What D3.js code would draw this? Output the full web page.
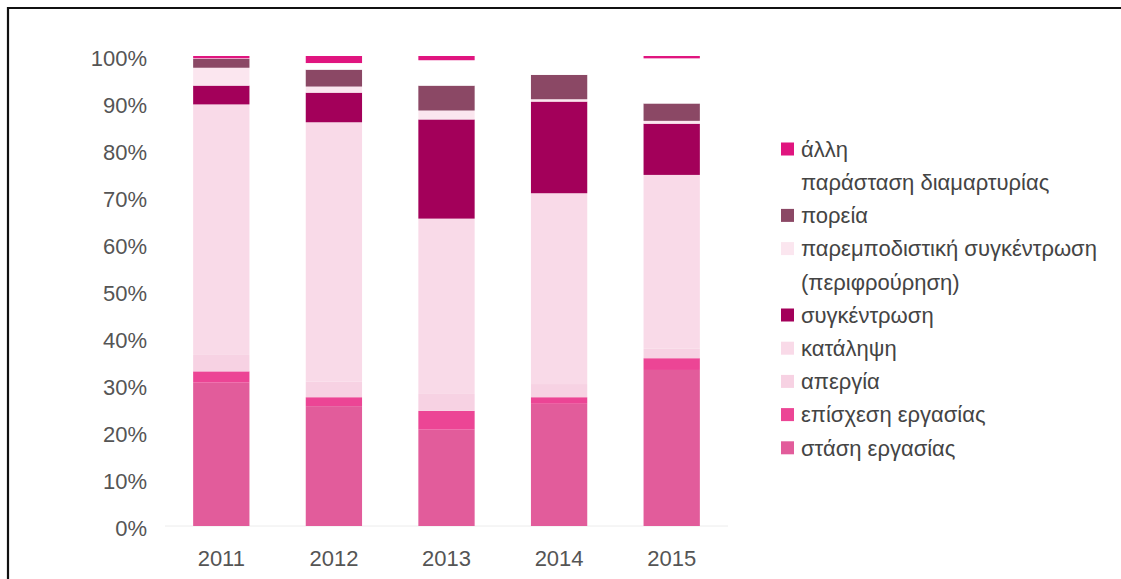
<!DOCTYPE html>
<html>
<head>
<meta charset="utf-8">
<script src="https://cdn.jsdelivr.net/npm/d3@7"></script>
<style>
  body { margin: 0; background: #fff; }
  svg { display: block; }
  .tick-label { font-family: "Liberation Sans", Arial, sans-serif; font-size: 22px; fill: #555; }
  .legend-label { font-family: "Liberation Sans", Arial, sans-serif; font-size: 22px; fill: #444; }
</style>
</head>
<body>
<div id="chart"></div>
<script>
/* DATA */
var years = ["2011", "2012", "2013", "2014", "2015"];

// stack order, bottom to top
var seriesNames = [
  "στάση εργασίας",
  "επίσχεση εργασίας",
  "απεργία",
  "κατάληψη",
  "συγκέντρωση",
  "παρεμποδιστική συγκέντρωση (περιφρούρηση)",
  "πορεία",
  "παράσταση διαμαρτυρίας",
  "άλλη"
];

var stasi       = [30.5, 25.5, 20.5, 26.0, 33.2];
var episxesi    = [2.4, 1.9, 4.0, 1.4, 2.5];
var apergia     = [3.5, 3.3, 3.6, 2.8, 2.0];
var katalipsi   = [53.3, 55.2, 37.3, 40.6, 37.0];
var sygkentrosi = [4.0, 6.3, 21.1, 19.5, 10.9];
var paremp      = [3.8, 1.3, 1.9, 0.5, 0.6];
var poreia      = [1.9, 3.6, 5.3, 5.2, 3.7];
var parastasi   = [0.1, 1.4, 5.4, 4.0, 9.6];
var alli        = [0.5, 1.5, 0.9, 0.0, 0.5];

var yTicks = [0, 10, 20, 30, 40, 50, 60, 70, 80, 90, 100];

var colors = ["#e25c9b", "#ec4595", "#f7d2e3", "#f9dae8", "#a3005a", "#fbe6ef", "#8b4865", "#ffffff", "#e0157f"];

// legend rows, top to bottom (idx = series index, -1 for a wrapped line)
var legendLines = [
  {idx: 8, text: "άλλη"},
  {idx: 7, text: "παράσταση διαμαρτυρίας"},
  {idx: 6, text: "πορεία"},
  {idx: 5, text: "παρεμποδιστική συγκέντρωση"},
  {idx: -1, text: "(περιφρούρηση)"},
  {idx: 4, text: "συγκέντρωση"},
  {idx: 3, text: "κατάληψη"},
  {idx: 2, text: "απεργία"},
  {idx: 1, text: "επίσχεση εργασίας"},
  {idx: 0, text: "στάση εργασίας"}
];

var width = 1121, height = 579;

var svg = d3.select("#chart").append("svg")
    .attr("width", width)
    .attr("height", height);

// frame (only top and left edges visible in the crop)
svg.append("path")
    .attr("d", "M8," + height + " V8 H" + width)
    .attr("fill", "none")
    .attr("stroke", "#111")
    .attr("stroke-width", 2.2);

var x = d3.scaleBand()
    .domain(years)
    .range([165, 728])
    .paddingInner(0.5)
    .paddingOuter(0.25);

var y = d3.scaleLinear()
    .domain([0, 100])
    .range([526, 56]);

// build table for the stack
var all = [stasi, episxesi, apergia, katalipsi, sygkentrosi, paremp, poreia, parastasi, alli];
var table = years.map(function(yr, i){
  var row = {year: yr};
  seriesNames.forEach(function(n, j){ row[n] = all[j][i]; });
  return row;
});

var stacked = d3.stack().keys(seriesNames)(table);

// faint baseline
svg.append("line")
    .attr("x1", 165).attr("x2", 728)
    .attr("y1", y(0)).attr("y2", y(0))
    .attr("stroke", "#ececec")
    .attr("stroke-width", 1);

var layer = svg.append("g").selectAll("g")
    .data(stacked)
  .enter().append("g")
    .attr("fill", function(d, i){ return colors[i]; });

layer.selectAll("rect")
    .data(function(d){ return d; })
  .enter().append("rect")
    .attr("x", function(d){ return x(d.data.year); })
    .attr("width", x.bandwidth())
    .attr("y", function(d){ return y(d[1]); })
    .attr("height", function(d){ return y(d[0]) - y(d[1]); });

// y axis labels
var yAxis = d3.axisLeft(y)
    .tickValues(yTicks)
    .tickFormat(function(d){ return d + "%"; })
    .tickSize(0)
    .tickPadding(0);

var gy = svg.append("g")
    .attr("transform", "translate(147,2)")
    .call(yAxis);
gy.select(".domain").remove();
gy.selectAll("text").attr("class", "tick-label").attr("font-size", null).attr("font-family", null);

// x axis labels
var xAxis = d3.axisBottom(x).tickSize(0).tickPadding(0);
var gx = svg.append("g")
    .attr("transform", "translate(0,550)")
    .call(xAxis);
gx.select(".domain").remove();
gx.selectAll("text").attr("class", "tick-label").attr("font-size", null).attr("font-family", null);

// legend
var legend = svg.append("g").attr("transform", "translate(781,149)");
var rowStep = 33.2;

legendLines.forEach(function(l, i){
  var cy = i * rowStep;
  if (l.idx >= 0) {
    legend.append("rect")
      .attr("x", 0).attr("y", cy - 6.5)
      .attr("width", 13).attr("height", 13)
      .attr("fill", colors[l.idx]);
  }
  legend.append("text")
    .attr("class", "legend-label")
    .attr("x", 20)
    .attr("y", cy)
    .attr("dy", "0.35em")
    .text(l.text);
});
</script>
</body>
</html>
